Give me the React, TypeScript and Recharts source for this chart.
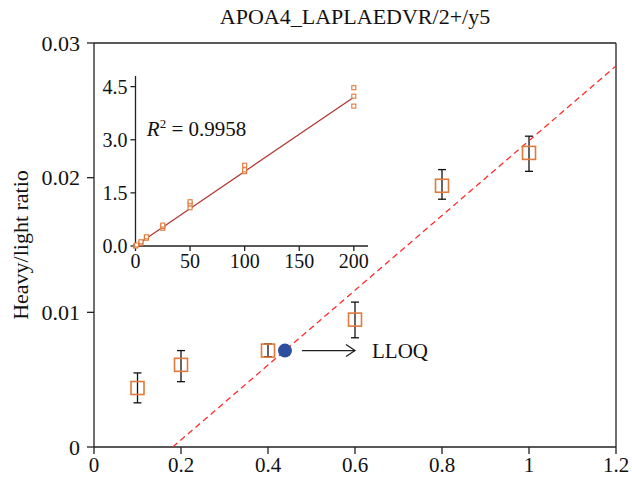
import React from "react";
import {
  ScatterChart,
  Scatter,
  XAxis,
  YAxis,
  ErrorBar,
  ReferenceLine,
  ReferenceDot,
} from "recharts";

const title = "APOA4_LAPLAEDVR/2+/y5";
const yLabel = "Heavy/light ratio";
const lloqLabel = "LLOQ";
const r2Value = "0.9958";

// main plot: spiked level vs heavy/light ratio
const levels = [0.1, 0.2, 0.4, 0.6, 0.8, 1.0];
const ratios = [0.00438, 0.0061, 0.00716, 0.00946, 0.0194, 0.02184];
const errLow = [0.0011, 0.00125, 0.00045, 0.00135, 0.001, 0.00137];
const errHigh = [0.00112, 0.00106, 0.0005, 0.0013, 0.0012, 0.00124];

const lloqX = [0.439];
const lloqY = [0.00716];
const arrowX = [0.478, 0.6];

const trendX = [0.181, 1.2];
const trendY = [0, 0.0283];

const xTicks = [0, 0.2, 0.4, 0.6, 0.8, 1.0, 1.2];
const yTicks = [0, 0.01, 0.02, 0.03];

// inset: calibration curve
const insetConc = [0, 1, 5, 5, 10, 10, 25, 25, 25, 50, 50, 50, 100, 100, 100, 200, 200, 200];
const insetRatio = [0.0, 0.03, 0.08, 0.12, 0.22, 0.26, 0.5, 0.55, 0.59, 1.08, 1.19, 1.25, 2.1, 2.15, 2.28, 3.95, 4.23, 4.47];
const fitX = [0, 200];
const fitY = [0.01, 4.2];
const insetXTicks = [0, 50, 100, 150, 200];
const insetYTicks = [0, 1.5, 3, 4.5];

const FONT = "'Liberation Serif', 'Times New Roman', serif";
const AXIS = "#222";
const ORANGE = "#e0793a";

const mainData = levels.map((x, i) => ({ x, y: ratios[i], err: [errLow[i], errHigh[i]] }));
const lloqData = lloqX.map((x, i) => ({ x, y: lloqY[i] }));
const trendData = trendX.map((x, i) => ({ x, y: trendY[i] }));
const insetData = insetConc.map((x, i) => ({ x, y: insetRatio[i] }));
const fitData = fitX.map((x, i) => ({ x, y: fitY[i] }));

const renderNone = () => <g />;

const renderBox = (p: any) => (
  <rect x={p.cx - 6.5} y={p.cy - 6.5} width={13} height={13} fill="none" stroke={ORANGE} strokeWidth={1.6} />
);

const renderSmallBox = (p: any) => (
  <rect x={p.cx - 2} y={p.cy - 2} width={4} height={4} fill="#fff" stroke={ORANGE} strokeWidth={1.1} />
);

const renderDot = (p: any) => <circle cx={p.cx} cy={p.cy} r={7} fill="#2d4f9e" />;

const renderArrow = (p: any) => (
  <g>
    <line x1={p.x1} y1={p.y1} x2={p.x2} y2={p.y2} stroke={AXIS} strokeWidth={1.3} />
    <polyline
      points={`${p.x2 - 9},${p.y2 - 6} ${p.x2},${p.y2} ${p.x2 - 9},${p.y2 + 6}`}
      fill="none"
      stroke={AXIS}
      strokeWidth={1.3}
    />
    <text x={p.x2 + 17} y={p.y2} dominantBaseline="central" fontSize={21} fill="#111">
      {lloqLabel}
    </text>
  </g>
);

const renderTitle = (p: any) => {
  const vb = p.viewBox;
  return (
    <text x={vb.x + vb.width / 2} y={24} textAnchor="middle" fontSize={22} fill="#111">
      {title}
    </text>
  );
};

const renderYLabel = (p: any) => {
  const vb = p.viewBox;
  const cx = vb.x + 20;
  const cy = vb.y + vb.height / 2;
  return (
    <text
      x={cx}
      y={cy}
      transform={`rotate(-90, ${cx}, ${cy})`}
      textAnchor="middle"
      dominantBaseline="central"
      fontSize={22}
      fill="#111"
    >
      {yLabel}
    </text>
  );
};

const renderR2 = (p: any) => {
  const vb = p.viewBox;
  return (
    <text x={vb.x} y={vb.y} fontSize={21} fill="#111">
      <tspan fontStyle="italic">R</tspan>
      <tspan dy={-8} fontSize={13}>2</tspan>
      <tspan dy={8}>{` = ${r2Value}`}</tspan>
    </text>
  );
};

const fmtMain = (v: number) => (v === 0 ? "0" : String(v));
const fmtMainY = (v: number) => (v === 0 ? "0" : v.toFixed(2));

const App: React.FC = () => {
  return (
    <div
      style={{
        position: "absolute",
        left: 0,
        top: 0,
        width: 632,
        height: 478,
        background: "#fff",
        fontFamily: FONT,
      }}
    >
      <ScatterChart width={632} height={478} margin={{ top: 0, right: 0, bottom: 0, left: 0 }}>
        <XAxis
          dataKey="x"
          type="number"
          domain={[0, 1.2]}
          ticks={xTicks}
          tickFormatter={fmtMain}
          height={31}
          tickSize={7}
          tickMargin={3}
          stroke={AXIS}
          strokeWidth={1.3}
          tick={{ fontSize: 21, fill: "#111" }}
          interval={0}
        />
        <XAxis
          xAxisId="top"
          orientation="top"
          type="number"
          domain={[0, 1.2]}
          height={43}
          tick={false}
          tickLine={false}
          stroke={AXIS}
          strokeWidth={1.3}
          label={renderTitle}
        />
        <YAxis
          dataKey="y"
          type="number"
          domain={[0, 0.03]}
          ticks={yTicks}
          tickFormatter={fmtMainY}
          width={94}
          tickSize={7}
          tickMargin={7}
          stroke={AXIS}
          strokeWidth={1.3}
          tick={{ fontSize: 22, fill: "#111" }}
          interval={0}
          label={renderYLabel}
        />
        <YAxis
          yAxisId="right"
          orientation="right"
          type="number"
          domain={[0, 0.03]}
          width={16}
          tick={false}
          tickLine={false}
          stroke={AXIS}
          strokeWidth={1.3}
        />
        <Scatter
          data={trendData}
          line={{ stroke: "#ff2b2b", strokeWidth: 1.3, strokeDasharray: "6 4" }}
          shape={renderNone}
          isAnimationActive={false}
        />
        <Scatter data={mainData} shape={renderBox} isAnimationActive={false}>
          <ErrorBar dataKey="err" direction="y" width={4} stroke="#111" strokeWidth={1.3} isAnimationActive={false} />
        </Scatter>
        <Scatter data={lloqData} shape={renderDot} isAnimationActive={false} />
        <ReferenceLine
          segment={[
            { x: arrowX[0], y: lloqY[0] },
            { x: arrowX[1], y: lloqY[0] },
          ]}
          shape={renderArrow}
        />
      </ScatterChart>

      <div style={{ position: "absolute", left: 95, top: 66 }}>
        <ScatterChart width={285} height={208} margin={{ top: 10, right: 12, bottom: 0, left: 0 }}>
          <XAxis
            dataKey="x"
            type="number"
            domain={[0, 213]}
            ticks={insetXTicks}
            height={28}
            tickSize={5}
            tickMargin={3}
            stroke={AXIS}
            strokeWidth={1.3}
            tick={{ fontSize: 20, fill: "#111" }}
            interval={0}
          />
          <XAxis xAxisId="top" orientation="top" type="number" domain={[0, 213]} height={0} tick={false} tickLine={false} stroke={AXIS} strokeWidth={1.3} />
          <YAxis
            dataKey="y"
            type="number"
            domain={[0, 4.8]}
            ticks={insetYTicks}
            tickFormatter={(v: number) => v.toFixed(1)}
            width={40.5}
            tickSize={5}
            tickMargin={3}
            stroke={AXIS}
            strokeWidth={1.3}
            tick={{ fontSize: 20, fill: "#111" }}
            interval={0}
          />
          <YAxis yAxisId="right" orientation="right" type="number" domain={[0, 4.8]} width={0} tick={false} tickLine={false} stroke={AXIS} strokeWidth={1.3} />
          <Scatter
            data={fitData}
            line={{ stroke: "#b2332f", strokeWidth: 1.2 }}
            shape={renderNone}
            isAnimationActive={false}
          />
          <Scatter data={insetData} shape={renderSmallBox} isAnimationActive={false} />
          <ReferenceDot x={11.3} y={3.09} r={1} fill="none" stroke="none" label={renderR2} />
        </ScatterChart>
      </div>
    </div>
  );
};

export default App;
